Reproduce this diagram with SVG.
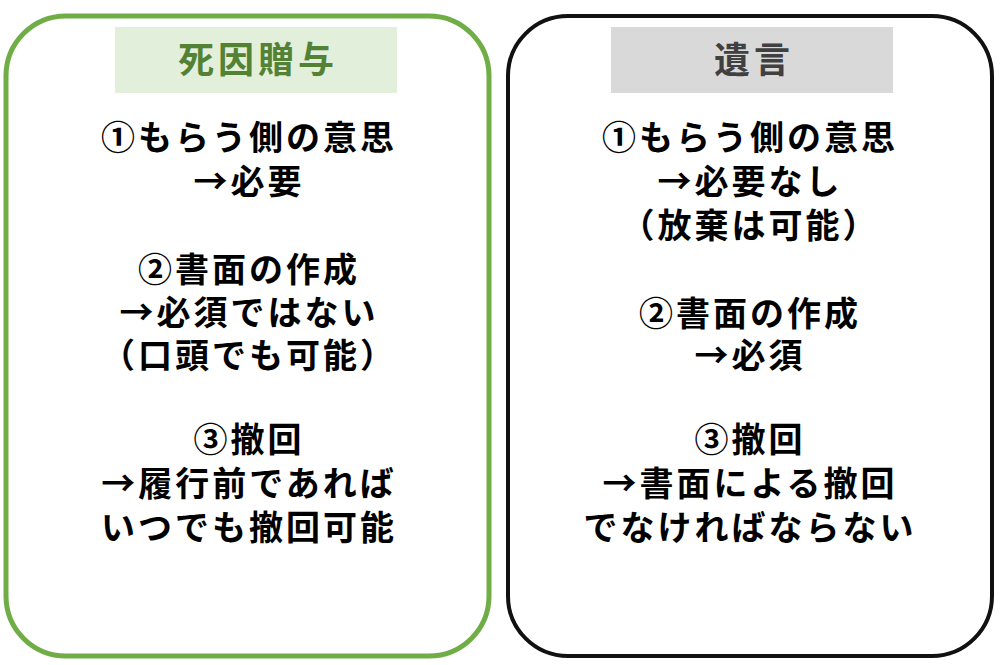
<svg xmlns="http://www.w3.org/2000/svg" width="1000" height="665" viewBox="0 0 1000 665">
<style>
text{font-family:"Noto Sans CJK JP","Noto Sans CJK SC",sans-serif;font-weight:bold;text-anchor:middle}
.b{font-size:34px;fill:#000;letter-spacing:3px}
.h{font-size:36px;letter-spacing:4px}
</style>
<rect width="1000" height="665" fill="#fff"/>
<g id="left">
<rect x="6" y="16" width="483" height="640" rx="60" fill="#fff" stroke="#70ad47" stroke-width="5"/>
<rect x="115" y="27" width="282" height="66" fill="#e2efda"/>
<text class="h" x="258" y="73" fill="#548235">死因贈与</text>
<text class="b" x="249" y="150">①もらう側の意思</text>
<text class="b" x="249" y="194">→必要</text>
<text class="b" x="249" y="282">②書面の作成</text>
<text class="b" x="249" y="325">→必須ではない</text>
<text class="b" x="249" y="368">（口頭でも可能）</text>
<text class="b" x="249" y="452">③撤回</text>
<text class="b" x="249" y="496">→履行前であれば</text>
<text class="b" x="249" y="540">いつでも撤回可能</text>
</g>
<g id="right">
<rect x="508" y="16" width="484" height="640" rx="60" fill="#fff" stroke="#111" stroke-width="4"/>
<rect x="611" y="27" width="282" height="66" fill="#d9d9d9"/>
<text class="h" x="754" y="73" fill="#404040">遺言</text>
<text class="b" x="750" y="150">①もらう側の意思</text>
<text class="b" x="750" y="194">→必要なし</text>
<text class="b" x="750" y="238">（放棄は可能）</text>
<text class="b" x="750" y="326">②書面の作成</text>
<text class="b" x="750" y="368">→必須</text>
<text class="b" x="750" y="452">③撤回</text>
<text class="b" x="750" y="496">→書面による撤回</text>
<text class="b" x="750" y="540">でなければならない</text>
</g>
<g id="connectors"/>
</svg>
